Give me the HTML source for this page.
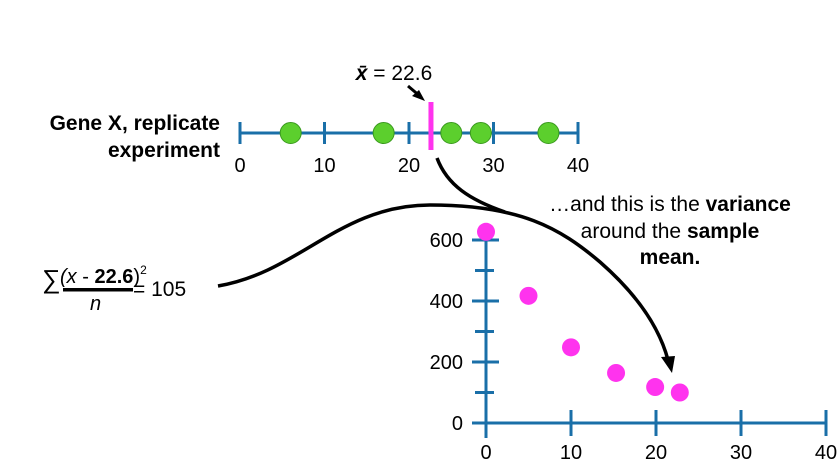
<!DOCTYPE html>
<html><head><meta charset="utf-8"><style>
body{margin:0;background:#fff;}
svg{display:block;font-family:"Liberation Sans",Arial,sans-serif;}
</style></head><body>
<svg width="840" height="476" viewBox="0 0 840 476">
<g id="topg"></g>
<g id="bot"></g>
<text x="394" y="80" font-size="21" text-anchor="middle"><tspan font-weight="bold" font-style="italic">x̄</tspan> = 22.6</text>
<path d="M408,86 L421,97" stroke="#000" stroke-width="3" fill="none"/>
<path d="M425,101 L412,96 L419,90 Z" fill="#000"/>
<text x="220" y="130" font-size="21" font-weight="bold" text-anchor="end">Gene X, replicate</text>
<text x="220" y="157" font-size="21" font-weight="bold" text-anchor="end">experiment</text>
<path d="M218,286 C300,272 340,205 430,205 C520,205 560,228 600,262 C640,297 660,330 668,360" stroke="#000" stroke-width="3.5" fill="none"/>
<path d="M672,373 L661,357 L675,356 Z" fill="#000"/>
<path d="M437,158 C447,185 470,200 505,212" stroke="#000" stroke-width="3.5" fill="none"/>
<text x="42" y="288" font-size="26">∑</text>
<text x="60" y="283" font-size="20"><tspan font-style="italic">(x</tspan> - <tspan font-weight="bold">22.6</tspan>)<tspan font-size="12" dy="-9">2</tspan></text>
<rect x="63" y="288" width="70" height="3.5" fill="#000"/>
<text x="90" y="310" font-size="20" font-style="italic">n</text>
<text x="133" y="296" font-size="21">= 105</text>
<text x="670" y="211" font-size="21" text-anchor="middle">…and this is the <tspan font-weight="bold">variance</tspan></text>
<text x="670" y="238" font-size="21" text-anchor="middle">around the <tspan font-weight="bold">sample</tspan></text>
<text x="670" y="264" font-size="21" text-anchor="middle"><tspan font-weight="bold">mean.</tspan></text>
</svg>
<script>
const obs=[6,17,25,28.5,36.5];
const meanVal=22.6;
const topTicks=[0,10,20,30,40];
const guessX=[0,5,10,15.3,19.9,22.8];
const varY=[627,417,248,164,118,100];
const xTicks=[0,10,20,30,40];
const yTicks=[0,200,400,600];
const yMinor=[100,300,500];
const NS="http://www.w3.org/2000/svg";
function mk(p,t,a){const e=document.createElementNS(NS,t);for(const k in a)e.setAttribute(k,a[k]);p.appendChild(e);return e;}
const blue="#1a6fa8";
const topG=document.getElementById('topg');
const tx=v=>240+v*(338/40), ty=133;
let l=mk(topG,'line',{x1:tx(0),x2:tx(40),y1:ty,y2:ty,stroke:blue,'stroke-width':3});


topTicks.forEach(v=>{
 const t=mk(topG,'line',{x1:tx(v),x2:tx(v),y1:ty-11,y2:ty+11,stroke:blue,'stroke-width':3});
 
 
 const s=mk(topG,'text',{x:tx(v),y:172,'font-size':20,'text-anchor':'middle'});s.textContent=v;
 
 
});
const m=mk(topG,'line',{x1:tx(meanVal),x2:tx(meanVal),y1:ty-31,y2:ty+17,stroke:'#ff33ee','stroke-width':5});


obs.forEach(v=>{
 const c=mk(topG,'circle',{cx:tx(v),cy:ty,r:10.5,fill:'#5ccf2d',stroke:'#3a9a1e','stroke-width':1});
 
 
});
const bot=document.getElementById('bot');
const bx=v=>486+v*(340/40), by=v=>423-v*(183/600);
let a1=mk(bot,'line',{x1:472,x2:bx(40),y1:by(0),y2:by(0),stroke:blue,'stroke-width':3});


let a2=mk(bot,'line',{x1:bx(0),x2:bx(0),y1:by(600),y2:by(0)+15,stroke:blue,'stroke-width':3});


xTicks.forEach(v=>{
 const t=mk(bot,'line',{x1:bx(v),x2:bx(v),y1:by(0)-13,y2:by(0)+13,stroke:blue,'stroke-width':3});
 
 
 const s=mk(bot,'text',{x:bx(v),y:459,'font-size':20,'text-anchor':'middle'});s.textContent=v;
 
 
});
yTicks.forEach(v=>{
 const t=mk(bot,'line',{x1:472,x2:499,y1:by(v),y2:by(v),stroke:blue,'stroke-width':3});
 
 
 const s=mk(bot,'text',{x:463,y:by(v)+7,'font-size':20,'text-anchor':'end'});s.textContent=v;
 
 
});
yMinor.forEach(v=>{
 const t=mk(bot,'line',{x1:475,x2:494,y1:by(v),y2:by(v),stroke:blue,'stroke-width':3});
 
 
});
guessX.forEach((v,i)=>{
 const c=mk(bot,'circle',{cx:bx(v),cy:by(varY[i]),r:9,fill:'#ff33ee'});
 
 
});
</script>
</body></html>
